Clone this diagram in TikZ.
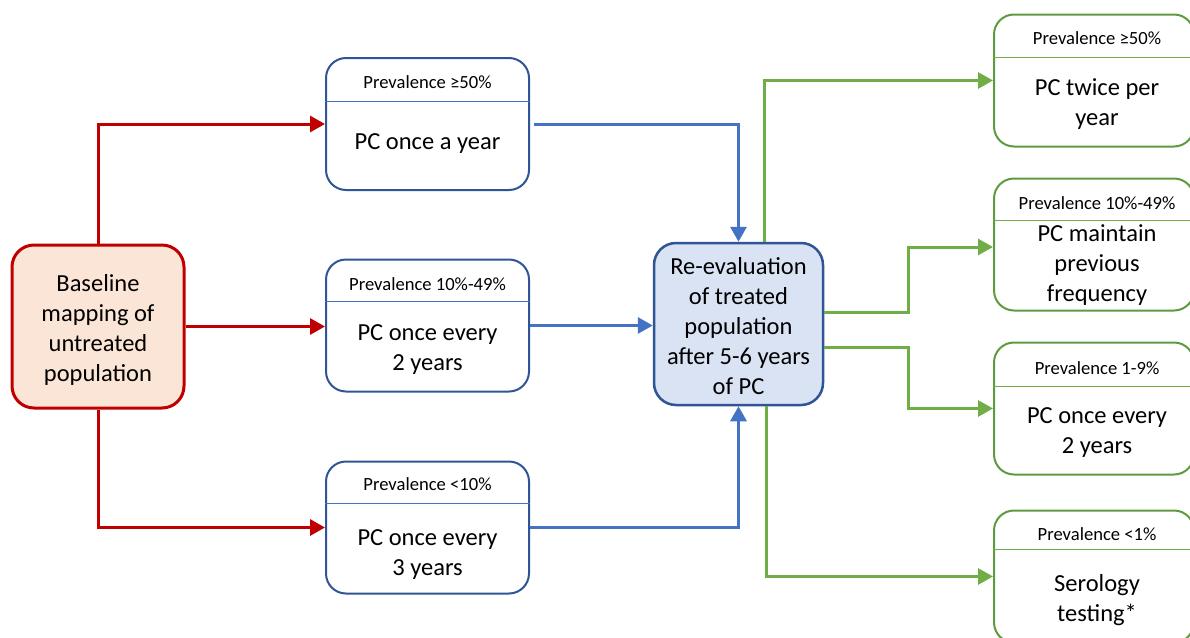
\documentclass[tikz,border=0pt]{standalone}
\usepackage{fontspec}
\setmainfont{Carlito}
\usetikzlibrary{arrows.meta,calc}
\definecolor{dred}{HTML}{C00000}
\definecolor{peach}{HTML}{FBE5D6}
\definecolor{dblue}{HTML}{2F5597}
\definecolor{mblue}{HTML}{4472C4}
\definecolor{lblue}{HTML}{DAE3F3}
\definecolor{lgreen}{HTML}{70AD47}
\definecolor{dgreen}{HTML}{5E9B3F}
\begin{document}
\begin{tikzpicture}[x=1pt,y=-1pt,
  box/.style={draw, line width=2pt, rounded corners=20pt, minimum width=203pt, minimum height=132pt, inner sep=0pt},
  bluebox/.style={box, draw=dblue},
  greenbox/.style={box, draw=dgreen, minimum width=200pt},
  lab/.style={font=\fontsize{18.6}{22}\selectfont, inner sep=0pt},
  body/.style={font=\fontsize{24.5}{30}\selectfont, align=center, inner sep=0pt},
  divb/.style={draw=mblue, line width=1pt},
  divg/.style={draw=lgreen, line width=1pt},
  redarr/.style={draw=dred, line width=3pt, -{Triangle[length=15pt,width=16pt]}},
  bluearr/.style={draw=mblue, line width=3pt, -{Triangle[length=15pt,width=16pt]}},
  greenarr/.style={draw=lgreen, line width=3pt, -{Triangle[length=15pt,width=16pt]}}
]
\path[use as bounding box, fill=white] (0,0) rectangle (1190,637);
\clip (0,0) rectangle (1190,637);

% baseline box
\node[box, draw=dred, fill=peach, line width=3pt, minimum width=172pt, minimum height=163pt,
      rounded corners=22pt] (base) at (98,326.5) {};
\node[body] (baset) at (98,330) {Baseline\\mapping of\\untreated\\population};

% middle boxes
\node[bluebox] (b1) at (427.5,124) {};
\draw[divb] ($(b1.north west)+(0,44)$) -- ($(b1.north east)+(0,44)$);
\node[lab] (b1l) at ($(b1.north)+(0,25)$) {Prevalence ≥50\%};
\node[body] (b1t) at ($(b1.north)+(0,87)$) {PC once a year};

\node[bluebox] (b2) at (427.5,325.5) {};
\draw[divb] ($(b2.north west)+(0,43)$) -- ($(b2.north east)+(0,43)$);
\node[lab] (b2l) at ($(b2.north)+(0,26)$) {Prevalence 10\%-49\%};
\node[body] (b2t) at ($(b2.north)+(0,91)$) {PC once every\\2 years};

\node[bluebox] (b3) at (427.5,527.5) {};
\draw[divb] ($(b3.north west)+(0,43)$) -- ($(b3.north east)+(0,43)$);
\node[lab] (b3l) at ($(b3.north)+(0,24)$) {Prevalence <10\%};
\node[body] (b3t) at ($(b3.north)+(0,94)$) {PC once every\\3 years};

% re-evaluation box
\node[box, draw=dblue, fill=lblue, line width=2.5pt, minimum width=169pt, minimum height=162pt,
      rounded corners=22pt] (re) at (738.5,324) {};
\node[body] (ret) at (738.5,326.5) {Re-evaluation\\of treated\\population\\after 5-6 years\\of PC};

% right boxes
\node[greenbox] (r1) at (1094,80.5) {};
\draw[divg] ($(r1.north west)+(0,44)$) -- ($(r1.north east)+(0,44)$);
\node[lab] (r1l) at ($(r1.north)+(3,25)$) {Prevalence ≥50\%};
\node[body] (r1t) at ($(r1.north)+(3,91)$) {PC twice per\\year};

\node[greenbox] (r2) at (1094,244.5) {};
\draw[divg] ($(r2.north west)+(0,43)$) -- ($(r2.north east)+(0,43)$);
\node[lab] (r2l) at ($(r2.north)+(3,26)$) {Prevalence 10\%-49\%};
\node[body] (r2t) at ($(r2.north)+(3,88)$) {PC maintain\\previous\\frequency};

\node[greenbox] (r3) at (1094,408.5) {};
\draw[divg] ($(r3.north west)+(0,45)$) -- ($(r3.north east)+(0,45)$);
\node[lab] (r3l) at ($(r3.north)+(3,27)$) {Prevalence 1-9\%};
\node[body] (r3t) at ($(r3.north)+(3,91)$) {PC once every\\2 years};

\node[greenbox] (r4) at (1094,576.5) {};
\draw[divg] ($(r4.north west)+(0,40)$) -- ($(r4.north east)+(0,40)$);
\node[lab] (r4l) at ($(r4.north)+(3,25)$) {Prevalence <1\%};
\node[body] (r4t) at ($(r4.north)+(3,91)$) {Serology\\testing*};

% red connectors
\draw[redarr] (base.north) |- (b1.west);
\draw[redarr] (base.east) -- (base.east -| b2.west);
\draw[redarr] (base.south) |- (b3.west);

% blue connectors
\draw[bluearr, shorten <=4pt] (b1.east) -| (re.north);
\draw[bluearr] (b2.east) -- (b2.east -| re.west);
\draw[bluearr] (b3.east) -| (re.south);

% green connectors
\coordinate (g1s) at ($(re.north)+(26,0)$);
\draw[greenarr] (g1s) |- (r1.west);
\coordinate (g2s) at ($(re.east)+(0,-12)$);
\coordinate (r2in) at ($(r2.west)+(0,2.5)$);
\draw[greenarr] (g2s) -| ($(g2s)!.5!(r2in)$) |- (r2in);
\coordinate (g3s) at ($(re.east)+(0,23)$);
\draw[greenarr] (g3s) -| ($(g3s)!.5!(r3.west)$) |- (r3.west);
\coordinate (g4s) at ($(re.south)+(28,0)$);
\draw[greenarr] (g4s) |- (r4.west);
\end{tikzpicture}
\end{document}
